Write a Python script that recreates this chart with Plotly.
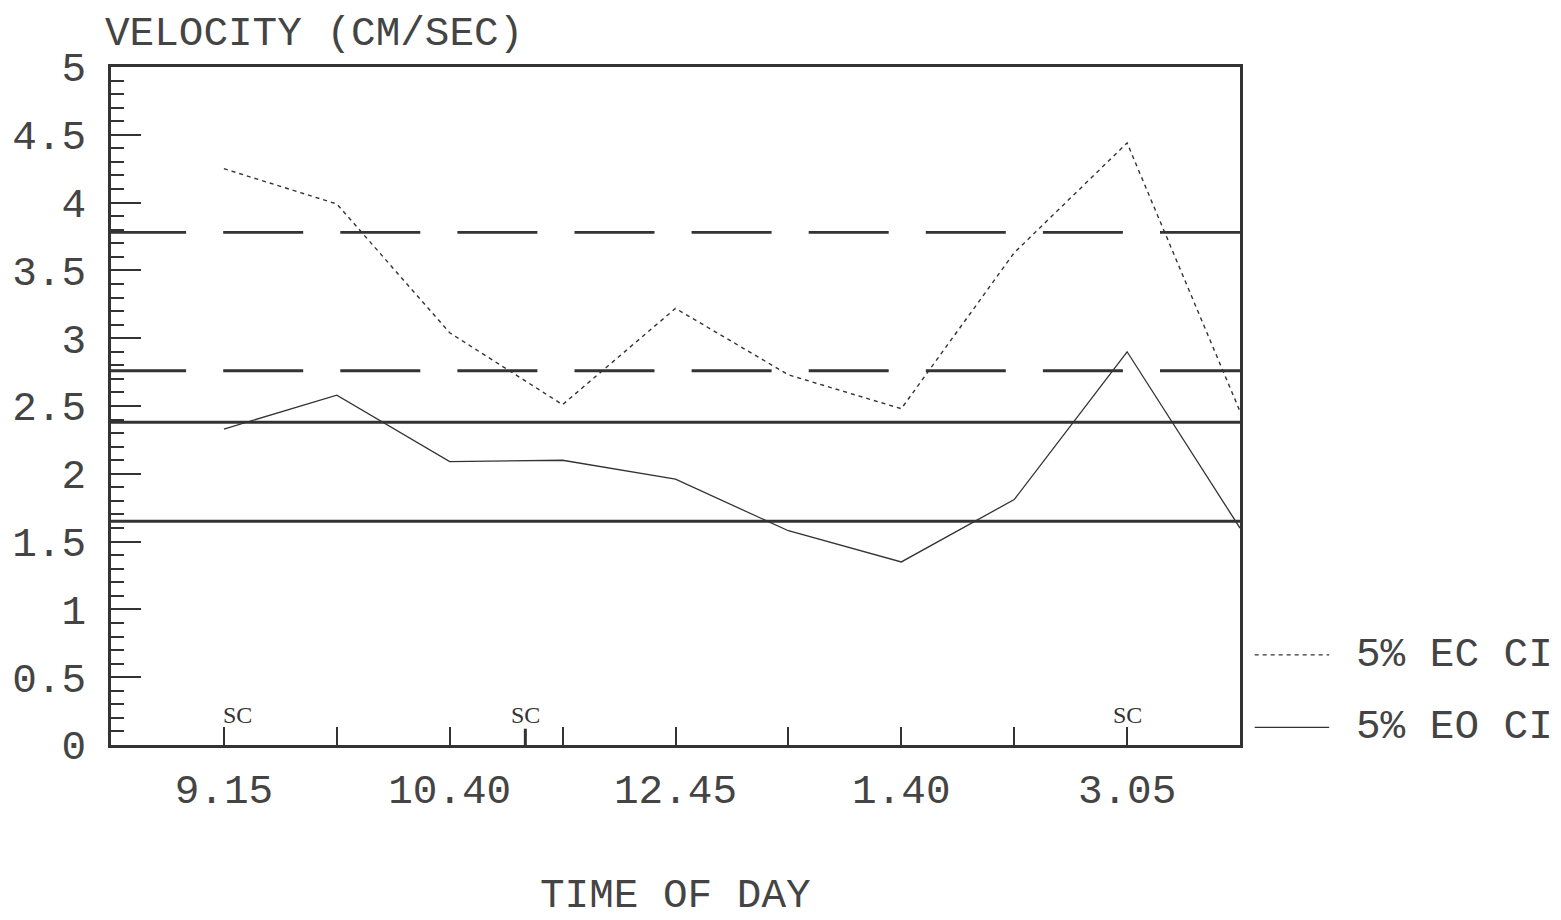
import plotly.graph_objects as go

# Sampling times (index positions along the day) and their printed labels
time_idx = [0, 1, 2, 3, 4, 5, 6, 7, 8, 9]
tick_idx = [0, 1, 2, 3, 4, 5, 6, 7, 8]
tick_text = ["9.15", "", "10.40", "", "12.45", "", "1.40", "", "3.05"]

# Velocity series (cm/sec)
ec_velocity = [4.25, 3.99, 3.04, 2.51, 3.22, 2.73, 2.48, 3.63, 4.44, 2.46]
eo_velocity = [2.33, 2.58, 2.09, 2.10, 1.96, 1.58, 1.35, 1.81, 2.90, 1.60]

# 5% confidence interval bounds
ec_ci = [3.78, 2.76]
eo_ci = [2.38, 1.65]

# Y axis ticks
y_ticks = [0, 0.5, 1, 1.5, 2, 2.5, 3, 3.5, 4, 4.5, 5]
y_text = ["0", "0.5", "1", "1.5", "2", "2.5", "3", "3.5", "4", "4.5", "5"]

# SC event markers along the time axis
sc_x = [0, 2.67, 8]

INK = "#333333"
TEXT_INK = "#444444"
FONT = "Liberation Mono"

fig = go.Figure()

x_lo, x_hi = -1, 9

# Confidence bounds as horizontal rules across the frame
# (dash period chosen so a dash sits at both ends of the frame)
for v in ec_ci:
    fig.add_shape(type="line", xref="x", yref="y", x0=x_hi, x1=x_lo, y0=v, y1=v,
                  line=dict(color=INK, width=2.8, dash="80px,37.1px"))
for v in eo_ci:
    fig.add_shape(type="line", xref="x", yref="y", x0=x_lo, x1=x_hi, y0=v, y1=v,
                  line=dict(color=INK, width=2.8))

fig.add_trace(go.Scatter(x=time_idx, y=ec_velocity, mode="lines", name="5% EC CI",
                         line=dict(color=INK, width=1.4, dash="4px,4px"),
                         showlegend=False))
fig.add_trace(go.Scatter(x=time_idx, y=eo_velocity, mode="lines", name="5% EO CI",
                         line=dict(color=INK, width=1.3),
                         showlegend=False))

# SC labels and the emphasised tick under the middle one
for i, sx in enumerate(sc_x):
    fig.add_annotation(x=sx, y=0, xref="x", yref="y", text="SC", showarrow=False,
                       yanchor="bottom", yshift=15,
                       xanchor="left" if i == 0 else "center", xshift=-3 if i == 0 else 0,
                       font=dict(family="Liberation Serif", size=24, color=INK))
fig.add_shape(type="line", xref="x", yref="y", x0=sc_x[1], x1=sc_x[1], y0=0, y1=0.12,
              line=dict(color=INK, width=3))

# Legend drawn at the right of the frame
legend_rows = [("5% EC CI", "4px,4px", 0.133), ("5% EO CI", "solid", 0.026)]
for label, dash, py in legend_rows:
    fig.add_shape(type="line", xref="paper", yref="paper", x0=1.013, x1=1.079,
                  y0=py, y1=py, line=dict(color=INK, width=1.3, dash=dash))
    fig.add_annotation(x=1.101, y=py, xref="paper", yref="paper", text=label,
                       showarrow=False, xanchor="left", yanchor="middle",
                       font=dict(family=FONT, size=41, color=TEXT_INK))

# Axis titles
fig.add_annotation(x=0, y=1, xref="paper", yref="paper", text="VELOCITY (CM/SEC)",
                   showarrow=False, xanchor="left", yanchor="bottom", yshift=8, xshift=-8,
                   font=dict(family=FONT, size=41, color=TEXT_INK))
fig.add_annotation(x=0.5, y=0, xref="paper", yref="paper", text="TIME OF DAY",
                   showarrow=False, xanchor="center", yanchor="middle", yshift=-151,
                   font=dict(family=FONT, size=41, color=TEXT_INK))

fig.update_xaxes(range=[x_lo, x_hi], tickmode="array", tickvals=tick_idx, ticktext=tick_text,
                 ticks="inside", ticklen=18, tickwidth=1.5, tickcolor=INK,
                 showline=True, linewidth=2.5, linecolor=INK, mirror=True,
                 showgrid=False, zeroline=False, ticklabelstandoff=6,
                 tickfont=dict(family=FONT, size=41, color=TEXT_INK))
fig.update_yaxes(range=[0, 5], tickmode="array", tickvals=y_ticks, ticktext=y_text,
                 ticks="inside", ticklen=30, tickwidth=1.5, tickcolor=INK,
                 minor=dict(dtick=0.1, tick0=0, ticks="inside", ticklen=13,
                            tickwidth=1.5, tickcolor=INK),
                 showline=True, linewidth=2.5, linecolor=INK, mirror=True,
                 showgrid=False, zeroline=False, ticklabelstandoff=14,
                 tickfont=dict(family=FONT, size=41, color=TEXT_INK))

fig.update_layout(width=1561, height=920, paper_bgcolor="white", plot_bgcolor="white",
                  margin=dict(l=106, r=321, t=67, b=175), showlegend=False)

fig.write_html("out.html")
